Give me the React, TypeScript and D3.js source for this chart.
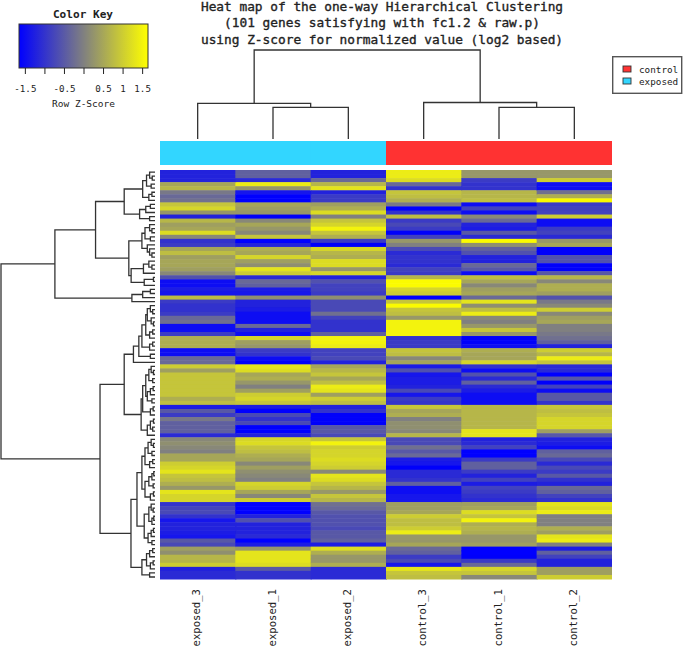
import React, { useEffect, useRef } from 'react';
import * as d3 from 'd3';

// Row z-scores, top to bottom, one array per column in plotted order
const exposed3 = [
  -1.2, -1.2, -1.2, 0.5, 0.7, -0.1, -0.3, -0.2, 0.9, 1.1,
  0.3, -1.2, 0.7, 0.4, 0.5, 1.2, 0.1, -1.0, -0.9, 0.5,
  0.8, 0.4, 0.5, 0.5, 0.4, 0.1, -0.6, -1.5, -1.5, -1.3,
  -1.4, 0.8, -0.9, -1.0, -1.0, -0.9, -0.3, -0.2, -1.5, -1.5,
  -0.9, 0.6, 0.6, 0.6, -1.5, -1.5, -0.3, -0.3, 1.0, 0.4,
  0.9, 0.9, 0.9, 0.9, 0.9, 0.9, 0.6, 0.8, -1.3, -0.5,
  -0.9, -0.1, -0.4, -0.4, -0.4, -1.1, 0.1, 0.2, 0.1, 0.0,
  0.5, 0.5, 1.0, 1.1, 1.3, 0.9, 0.8, 0.6, 0.3, 1.3,
  1.1, 1.1, -1.0, -0.8, -0.7, -1.0, -1.4, -1.2, -1.2, -1.3,
  -1.4, -0.5, -0.7, 0.4, 0.2, 0.7, 0.7, 1.0, -1.2, -1.1, -1.1,
];
const exposed1 = [
  -0.4, -0.4, -1.1, 1.4, 0.3, -1.4, -1.7, -1.7, 0.5, 0.4,
  0.3, -1.6, 0.1, 0.5, 0.3, 0.1, 0.9, -1.7, -1.2, 0.6,
  0.5, 1.1, 0.4, 0.2, 1.3, 1.0, -1.1, -0.3, -0.4, -1.3,
  -1.4, 0.2, -1.2, -1.2, -1.3, -1.5, -1.5, -1.5, -0.3, -1.2,
  -1.5, 1.1, 0.4, 0.3, -0.9, -1.0, -1.5, -1.6, 1.3, 1.2,
  0.5, 0.6, 0.3, 0.0, 0.4, 1.0, 1.1, 0.9, -1.3, -1.7,
  -0.7, -1.0, -0.7, -1.7, -1.7, -1.2, 1.1, 1.2, 0.9, 0.8,
  0.6, 0.5, 0.1, 0.4, 0.2, 0.1, 0.0, 1.1, 1.0, 0.5,
  0.1, 1.0, -1.7, -1.7, -1.7, -1.2, -0.6, -1.2, -1.2, -1.2,
  -1.1, -1.7, -1.3, 0.3, 1.3, 1.3, 1.3, 1.2, -0.5, -1.0, -1.0,
];
const exposed2 = [
  -1.2, -1.2, -0.3, 0.7, 1.3, -1.2, -0.9, -0.9, 0.4, 0.6,
  1.2, 0.0, 0.9, 1.1, 1.5, 0.9, 0.6, -0.9, -1.6, 1.1,
  0.7, 0.6, 1.2, 1.2, 0.3, 1.1, -1.2, -0.6, -0.8, -0.8,
  -0.9, 0.2, -0.7, -0.7, -0.7, -0.2, -0.8, -1.0, -1.0, -1.0,
  -0.4, 1.5, 1.5, 1.4, -0.8, -0.8, -0.7, -1.2, 0.5, 0.7,
  0.9, 0.5, 0.8, 1.4, 1.3, 0.4, 1.0, 0.8, -1.2, -1.0,
  -1.6, -1.6, -1.6, -0.5, -0.5, -0.7, 0.9, 1.5, 1.0, 1.1,
  1.1, 1.2, 1.1, 1.0, 0.1, 1.3, 1.2, 0.9, 0.7, 0.3,
  0.9, 0.7, -0.2, -0.3, -0.5, -0.6, -0.6, -0.6, -0.7, -0.5,
  -0.5, -0.4, -1.3, 1.2, 0.6, 0.3, 0.3, 0.6, -1.1, -1.1, -1.1,
];
const control3 = [
  1.4, 1.4, 1.2, -0.3, -1.0, 0.9, 0.8, 0.6, -0.1, -1.7,
  -1.0, 0.8, -0.9, -0.7, -0.9, -1.6, -0.8, 0.3, 0.0, -0.7,
  -1.1, -1.0, -1.0, -1.1, -0.8, -0.9, 0.7, 1.6, 1.6, 1.1,
  1.0, -1.8, 0.9, 1.6, 0.9, 0.8, 0.3, 1.5, 1.5, 1.5,
  1.5, -1.0, -0.9, -0.9, 0.9, 0.8, 0.1, 0.5, -1.3, -0.6,
  -1.4, -1.3, -1.3, -1.2, -0.7, -1.4, -0.9, -1.0, 0.9, 0.5,
  0.6, 0.0, 0.2, 0.2, 0.1, 0.7, -0.7, -0.7, -0.2, -0.5,
  -0.3, -1.3, -1.4, -1.6, -1.1, -1.1, -1.0, -0.4, -1.5, -1.5,
  -1.4, -1.4, 0.4, 0.4, 0.5, 1.0, 0.8, 0.8, 1.0, 1.4,
  0.3, 0.3, 0.5, -0.3, -0.4, -0.9, -0.7, -1.4, 1.3, 0.9, 0.8,
];
const control1 = [
  0.3, 0.3, -0.9, -1.0, -1.0, 0.7, 0.7, 0.8, -1.5, -0.8,
  -1.5, 0.1, -0.3, -1.2, -1.3, -0.5, -1.1, 1.6, 0.2, -0.4,
  -0.6, -1.2, -1.2, -0.3, -0.5, -1.5, 0.8, 0.5, 0.1, 0.4,
  0.5, -0.3, 1.3, 0.2, 0.8, 1.4, 0.1, 0.0, 0.3, 0.9,
  0.3, -1.6, -1.6, -1.5, 0.6, 0.5, 0.5, 1.1, -1.0, -1.5,
  -0.6, -1.1, -0.4, -1.1, -1.3, -1.5, -1.5, -1.5, 0.7, 0.7,
  0.7, 0.7, 0.7, 0.7, 1.3, 1.3, -1.2, -1.1, -0.8, -1.7,
  -1.7, -0.9, -0.4, -0.4, -0.9, -1.2, -0.8, -1.3, -0.8, -0.9,
  -1.0, -1.1, 0.4, 0.5, 1.2, 0.9, 1.5, 0.6, 0.7, 0.6,
  0.3, 0.3, 0.4, -1.7, -1.7, -1.6, -0.9, -0.3, 1.1, 0.9, 0.1,
];
const control2 = [
  0.3, 0.3, 1.0, -1.5, -1.5, -0.2, 0.6, 1.6, -0.9, -0.8,
  -0.8, 1.0, -1.5, -1.5, -0.9, -0.8, -1.1, 0.3, 0.5, -1.6,
  -1.6, -0.6, -0.6, -1.6, -1.6, -0.5, 0.7, 0.1, 0.6, 0.6,
  0.4, -0.6, -0.1, 0.1, 1.0, 0.1, 0.4, 0.5, 0.0, 0.0,
  -0.1, -0.2, -0.4, -1.2, 1.0, 0.7, 1.4, 0.9, -1.1, -1.1,
  -1.7, -0.5, -1.6, -0.8, -1.5, -0.5, -0.5, -1.0, 0.9, 0.8,
  0.9, 1.1, 1.1, 1.1, 0.4, -0.5, -1.2, -1.3, -1.5, -0.4,
  -0.3, -0.7, -1.1, -0.7, -0.9, -0.5, -1.0, -1.2, -0.3, -0.4,
  -0.8, -1.0, 1.3, 1.2, 1.4, 0.0, 0.0, 0.0, 0.6, 0.4,
  1.3, 1.4, 0.0, -1.3, -0.4, -0.8, -1.2, -1.2, 0.4, 0.4, 1.0,
];

const columnLabels = ['exposed_3', 'exposed_1', 'exposed_2', 'control_3', 'control_1', 'control_2'];
const columnGroups = ['exposed', 'exposed', 'exposed', 'control', 'control', 'control'];
const columnValues = [exposed3, exposed1, exposed2, control3, control1, control2];

const titleLines = [
  'Heat map of the one-way Hierarchical Clustering',
  '(101 genes satisfying with fc1.2 & raw.p)',
  'using Z-score for normalized value (log2 based)',
];
const legendLabels = ['control', 'exposed'];
const keyTicks = [-1.5, -1, -0.5, 0, 0.5, 1, 1.5];
const keyTickLabels = ['-1.5', '', '-0.5', '', '0.5', '1', '1.5'];

// Dendrograms: [height, left, right], 0 is a leaf
const columnTree = [10,
  [4, 0, [3.55, 0, 0]],
  [4.1, 0, [3.55, 0, 0]],
];
const rowTree = [10,
  [6.5,
    [3.86,
      [2.0,
        [0.8, [0.55, [0.35, 0, [0.18, 0, 0]], [0.25, 0, 0]], [0.4, [0.2, 0, 0], 0]],
        [1.0, [0.6, [0.3, 0, 0], 0], [0.35, 0, 0]],
      ],
      [1.7,
        [0.85, [0.65, [0.35, 0, [0.2, 0, 0]], [0.3, 0, 0]], [0.5, 0, [0.35, 0, [0.2, 0, 0]]]],
        [1.55, [0.75, [0.4, 0, [0.2, 0, 0]], 0], [0.7, [0.1, 0, 0], 0]],
      ],
    ],
    [1.5, [0.8, [0.3, 0, 0], 0], 0],
  ],
  [3.57,
    [2.0,
      [1.4,
        [1.05,
          [0.85,
            [0.6, [0.5, [0.3, 0, [0.15, 0, 0]], [0.25, 0, [0.1, 0, 0]]], [0.35, [0.15, 0, 0], 0]],
            [0.35, [0.15, 0, 0], 0],
          ],
          [0.3, 0, 0],
        ],
        0,
      ],
      [0.9,
        [0.8,
          [0.6, [0.4, [0.25, 0, [0.1, 0, 0]], [0.15, 0, 0]], [0.5, [0.3, [0.12, 0, 0], 0], [0.2, 0, 0]]],
          [0.3, [0.12, 0, 0], 0],
        ],
        [0.5, [0.3, [0.1, 0, 0], [0.15, 0, 0]], 0],
      ],
    ],
    [1.56,
      [1.17,
        [0.85,
          [0.65, [0.45, [0.25, 0, [0.1, 0, 0]], [0.2, 0, 0]], [0.35, [0.15, 0, 0], 0]],
          [0.65, [0.4, [0.2, [0.08, 0, 0], 0], [0.12, 0, 0]], [0.3, [0.1, 0, 0], 0]],
        ],
        [0.7,
          [0.4, [0.25, 0, [0.12, 0, 0]], [0.2, [0.08, 0, 0], 0]],
          [0.45, [0.25, [0.1, 0, 0], 0], [0.2, 0, 0]],
        ],
      ],
      [0.85,
        [0.55, [0.35, [0.15, 0, 0], 0], [0.3, [0.12, 0, 0], 0]],
        [0.35, 0, 0],
      ],
    ],
  ],
];

const mono = '"DejaVu Sans Mono", "Liberation Mono", monospace';
const textColor = '#222';
const groupColor = { exposed: '#33d6ff', control: '#ff3333' };

// Walk a dendrogram and return [pos, level] corner lists for each merge
function dendroSegments(tree, pos, level) {
  const root = d3.hierarchy(tree, (d) => (Array.isArray(d) ? d.slice(1) : null));
  root.leaves().forEach((leaf, i) => { leaf.pos = pos(i); });
  const segments = [];
  root.eachAfter((node) => {
    node.h = Array.isArray(node.data) ? node.data[0] : 0;
    if (node.children) {
      node.pos = d3.mean(node.children, (c) => c.pos);
      const [a, b] = node.children;
      segments.push([
        [a.pos, level(a.h)], [a.pos, level(node.h)], [b.pos, level(node.h)], [b.pos, level(b.h)],
      ]);
    }
  });
  return segments;
}

const App = () => {
  const chartRef = useRef();

  useEffect(() => {
    d3.select(chartRef.current).selectAll('*').remove();

    const svg = d3
      .select(chartRef.current)
      .append('svg')
      .attr('width', 685)
      .attr('height', 649)
      .style('position', 'absolute')
      .style('left', 0)
      .style('top', 0)
      .style('background', '#fff');

    const defs = svg.append('defs');
    defs
      .append('filter')
      .attr('id', 'soft')
      .attr('x', '-2%')
      .attr('y', '-2%')
      .attr('width', '104%')
      .attr('height', '104%')
      .append('feGaussianBlur')
      .attr('stdDeviation', '0.5 0.55');

    const color = d3
      .scaleLinear()
      .domain([-1.65, 0, 1.65])
      .range(['#0000ff', '#808080', '#ffff00'])
      .clamp(true);

    // Heat map
    const rows = d3.range(exposed3.length);
    const x = d3.scaleBand().domain(d3.range(columnLabels.length)).range([160, 612]);
    const y = d3.scaleBand().domain(rows).range([170, 579]);

    // Widen every column but the last so fractional edges leave no seam
    const cellWidth = (c) => x.bandwidth() + (c < columnLabels.length - 1 ? 1 : 0);

    const heat = svg.append('g').attr('filter', 'url(#soft)');
    columnValues.forEach((values, c) => {
      heat
        .append('g')
        .selectAll('rect')
        .data(values)
        .join('rect')
        .attr('x', x(c))
        .attr('y', (d, i) => y(i))
        .attr('width', cellWidth(c))
        .attr('height', y.bandwidth() + (values.length > 0 ? 0.5 : 0))
        .attr('fill', (d) => color(d));
    });

    // Sample colour bar
    svg
      .append('g')
      .attr('filter', 'url(#soft)')
      .selectAll('rect')
      .data(columnGroups)
      .join('rect')
      .attr('x', (d, i) => x(i))
      .attr('y', 141)
      .attr('width', (d, i) => cellWidth(i))
      .attr('height', 24)
      .attr('fill', (d) => groupColor[d]);

    // Column labels
    svg
      .append('g')
      .selectAll('text')
      .data(columnLabels)
      .join('text')
      .text((d) => d)
      .attr('transform', (d, i) => `translate(${x(i) + x.bandwidth() / 2 + 2.5},589) rotate(-90)`)
      .attr('text-anchor', 'end')
      .attr('font-family', mono)
      .attr('font-size', 10.6)
      .attr('fill', textColor);

    // Dendrograms
    const rowLevel = d3.scaleLinear().domain([0, 10]).range([155, 1]);
    const colLevel = d3.scaleLinear().domain([0, 10]).range([139, 50]);
    const rowLine = d3.line().x((p) => p[1]).y((p) => p[0]);
    const colLine = d3.line().x((p) => p[0]).y((p) => p[1]);

    svg
      .append('g')
      .selectAll('path')
      .data(dendroSegments(rowTree, (i) => y(i) + y.bandwidth() / 2, rowLevel))
      .join('path')
      .attr('d', rowLine)
      .attr('fill', 'none')
      .attr('stroke', '#333')
      .attr('stroke-width', 1.3);

    svg
      .append('g')
      .selectAll('path')
      .data(dendroSegments(columnTree, (i) => x(i) + x.bandwidth() / 2, colLevel))
      .join('path')
      .attr('d', colLine)
      .attr('fill', 'none')
      .attr('stroke', '#333')
      .attr('stroke-width', 1.3);

    // Title
    svg
      .append('g')
      .selectAll('text')
      .data(titleLines)
      .join('text')
      .text((d) => d)
      .attr('x', 382)
      .attr('y', (d, i) => 11 + i * 16.3)
      .attr('text-anchor', 'middle')
      .attr('font-family', mono)
      .attr('font-size', 12.8)
      .attr('stroke', textColor)
      .attr('stroke-width', 0.35)
      .attr('fill', textColor);

    // Legend
    const legend = svg.append('g');
    legend
      .append('rect')
      .attr('x', 612.7)
      .attr('y', 56.7)
      .attr('width', 69)
      .attr('height', 36.6)
      .attr('fill', '#fff')
      .attr('stroke', '#555')
      .attr('stroke-width', 1.4);
    legendLabels.forEach((label, i) => {
      legend
        .append('rect')
        .attr('x', 623)
        .attr('y', 66 + i * 12)
        .attr('width', 8)
        .attr('height', 6)
        .attr('fill', groupColor[label])
        .attr('stroke', '#333')
        .attr('stroke-width', 0.9);
      legend
        .append('text')
        .text(label)
        .attr('x', 639)
        .attr('y', 72.8 + i * 11.7)
        .attr('font-family', mono)
        .attr('font-size', 9.3)
        .attr('fill', textColor);
    });

    // Color key
    const keyX = d3.scaleLinear().domain([-1.65, 1.65]).range([19, 148]);
    const grad = defs.append('linearGradient').attr('id', 'keyGrad');
    color.domain().forEach((v) => {
      grad
        .append('stop')
        .attr('offset', `${((v + 1.65) / 3.3) * 100}%`)
        .attr('stop-color', color(v));
    });
    svg
      .append('rect')
      .attr('x', keyX.range()[0])
      .attr('y', 24)
      .attr('width', keyX.range()[1] - keyX.range()[0])
      .attr('height', 44)
      .attr('fill', 'url(#keyGrad)')
      .attr('stroke', '#333');

    const axis = svg
      .append('g')
      .attr('transform', 'translate(0,68)')
      .call(
        d3.axisBottom(keyX)
          .tickValues(keyTicks)
          .tickFormat((d, i) => keyTickLabels[i])
          .tickSize(6)
      );
    axis.select('.domain').remove();
    axis.selectAll('line').attr('stroke', textColor);
    axis
      .selectAll('text')
      .attr('font-family', mono)
      .attr('font-size', 9.2)
      .attr('fill', textColor)
      .attr('y', 17)
      .attr('dy', '0.71em');

    svg
      .append('text')
      .text('Color Key')
      .attr('x', 83)
      .attr('y', 17.5)
      .attr('text-anchor', 'middle')
      .attr('font-family', mono)
      .attr('font-size', 11.1)
      .attr('font-weight', 'bold')
      .attr('fill', textColor);
    svg
      .append('text')
      .text('Row Z-Score')
      .attr('x', 83.5)
      .attr('y', 107)
      .attr('text-anchor', 'middle')
      .attr('font-family', mono)
      .attr('font-size', 9.5)
      .attr('fill', textColor);
  }, []);

  return <div ref={chartRef}></div>;
};

export default App;
